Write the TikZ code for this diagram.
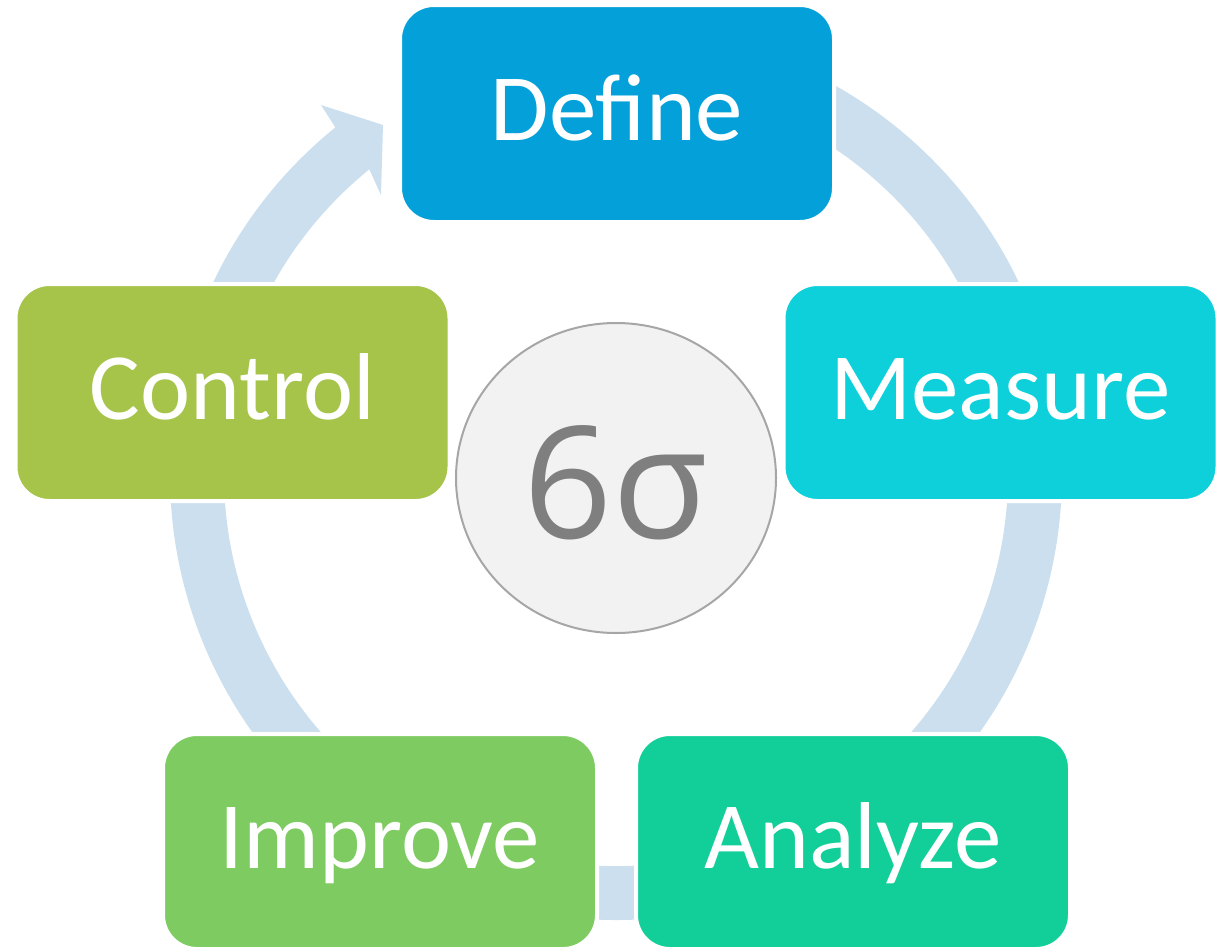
\documentclass[tikz,border=0pt]{standalone}
\usepackage{fontspec}
\setmainfont{Carlito}
\newfontfamily\hubfont{Open Sans}
\usetikzlibrary{calc,shapes.geometric}
\definecolor{ringblue}{HTML}{CCDFEF}
\definecolor{cdefine}{HTML}{04A0D9}
\definecolor{cmeasure}{HTML}{0ED0DA}
\definecolor{canalyze}{HTML}{12CE98}
\definecolor{cimprove}{HTML}{7ECB62}
\definecolor{ccontrol}{HTML}{A6C44A}
\definecolor{hubfill}{HTML}{F2F2F2}
\definecolor{hubline}{HTML}{A6A6A6}
\definecolor{hubtext}{HTML}{7F7F7F}
\begin{document}
\begin{tikzpicture}[x=1pt,y=1pt,
  stage/.style={rectangle, rounded corners=34pt, draw=white, line width=4pt,
    minimum width=434pt, minimum height=217pt, inner sep=0pt, text=white,
    font=\fontsize{95}{100}\selectfont, text height=54pt, text depth=0pt},
  hub/.style={ellipse, draw=hubline, fill=hubfill, line width=2pt,
    minimum width=320pt, minimum height=310pt, inner sep=0pt, text=hubtext,
    font=\hubfont\fontsize{156}{170}\selectfont, text height=120pt, text depth=0pt}
]
\useasboundingbox (0,0) rectangle (1225,-948);
\coordinate (c) at (616,-474);
\coordinate (tipA) at (381,-195);
\coordinate (tipB) at (383,-125);
\coordinate (tipC) at (321,-105);
% ring band with arrow head
\fill[ringblue] ($(c)+(116:392pt)$) arc[start angle=116, end angle=-231, radius=392pt]
  -- (tipA) -- (tipB) -- (tipC) -- ($(c)+(129:446pt)$)
  arc[start angle=-231, end angle=116, radius=446pt] -- cycle;
% stages
\node[stage, fill=cdefine]  (define)  at (617,-113.5) {Define};
\node[stage, fill=cmeasure] (measure) at (1000.5,-392.5) {Measure};
\node[stage, fill=canalyze, minimum height=215pt] (analyze) at (853,-841.5) {Analyze};
\node[stage, fill=cimprove, minimum height=215pt] (improve) at (380,-841.5) {Improve};
\node[stage, fill=ccontrol] (control) at (232.5,-392.5) {Control};
% hub
\node[hub] (hub) at (616,-478) {6σ};
\end{tikzpicture}
\end{document}
